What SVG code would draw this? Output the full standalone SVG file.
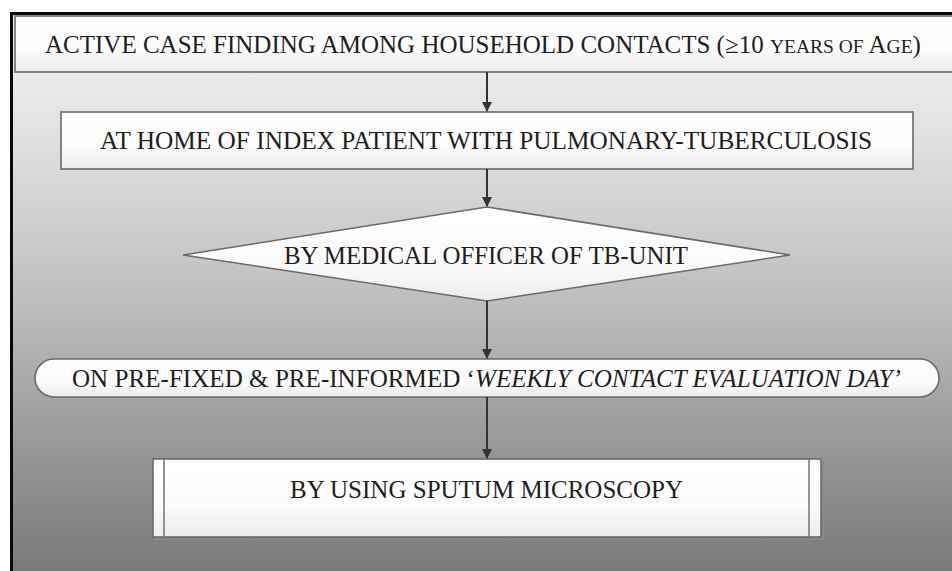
<svg xmlns="http://www.w3.org/2000/svg" width="952" height="571" viewBox="0 0 952 571">
<defs>
<linearGradient id="bg" x1="0" y1="0" x2="0" y2="1">
<stop offset="0" stop-color="#f4f4f4"/>
<stop offset="0.2" stop-color="#e2e2e2"/>
<stop offset="0.5" stop-color="#bdbdbd"/>
<stop offset="0.75" stop-color="#979797"/>
<stop offset="1" stop-color="#747474"/>
</linearGradient>
<linearGradient id="nf" x1="0" y1="0" x2="0" y2="1">
<stop offset="0" stop-color="#ffffff"/>
<stop offset="0.6" stop-color="#fbfbfb"/>
<stop offset="1" stop-color="#ececec"/>
</linearGradient>
<marker id="ah" viewBox="0 0 10 10" refX="9" refY="5" markerWidth="5" markerHeight="5" orient="auto" markerUnits="strokeWidth">
<path d="M0,0 L10,5 L0,10 Z" fill="#333"/>
</marker>
<style>
.node{fill:url(#nf);stroke:#6a6a6a;stroke-width:1.6}
.t{font-family:"Liberation Serif","Times New Roman",serif;font-size:26px;fill:#1e1e1e}
.conn line{stroke:#333;stroke-width:2;marker-end:url(#ah)}
</style>
</defs>
<rect x="0" y="0" width="952" height="571" fill="#ffffff"/>
<rect x="11.5" y="13.5" width="960" height="580" fill="url(#bg)" stroke="#0a0a0a" stroke-width="3"/>

<g id="n1">
<rect class="node" x="15" y="16" width="945" height="56"/>
<text class="t" x="45" y="53" style="font-size:25px">ACTIVE CASE FINDING AMONG HOUSEHOLD CONTACTS (≥10 <tspan style="font-size:19.5px">YEARS OF </tspan>A<tspan style="font-size:19.5px">GE</tspan>)</text>
</g>

<g id="n2">
<rect class="node" x="61" y="112" width="852" height="57"/>
<text class="t" x="100" y="149" textLength="772" lengthAdjust="spacingAndGlyphs">AT HOME OF INDEX PATIENT WITH PULMONARY-TUBERCULOSIS</text>
</g>

<g id="n3">
<polygon class="node" points="487,207 790,255 487,301 183,255"/>
<text class="t" x="284" y="264" textLength="404" lengthAdjust="spacingAndGlyphs">BY MEDICAL OFFICER OF TB-UNIT</text>
</g>

<g id="n4">
<rect class="node" x="35" y="359" width="904" height="38" rx="19" ry="19"/>
<text class="t" x="72" y="387" textLength="829" lengthAdjust="spacingAndGlyphs">ON PRE-FIXED &amp; PRE-INFORMED ‘<tspan font-style="italic">WEEKLY CONTACT EVALUATION DAY’</tspan></text>
</g>

<g id="n5">
<rect x="155" y="461" width="668" height="78" fill="none" stroke="#8a8a8a" stroke-width="1.5"/>
<rect class="node" x="153" y="459" width="668" height="78"/>
<line x1="164" y1="459" x2="164" y2="537" stroke="#6a6a6a" stroke-width="1.4"/>
<line x1="809" y1="459" x2="809" y2="537" stroke="#6a6a6a" stroke-width="1.4"/>
<text class="t" x="290" y="498" textLength="393" lengthAdjust="spacingAndGlyphs">BY USING SPUTUM MICROSCOPY</text>
</g>

<g id="connectors" class="conn">
<line x1="487" y1="72" x2="487" y2="111"/>
<line x1="487" y1="169" x2="487" y2="206"/>
<line x1="487" y1="301" x2="487" y2="358"/>
<line x1="487" y1="397" x2="487" y2="458"/>
</g>
</svg>
